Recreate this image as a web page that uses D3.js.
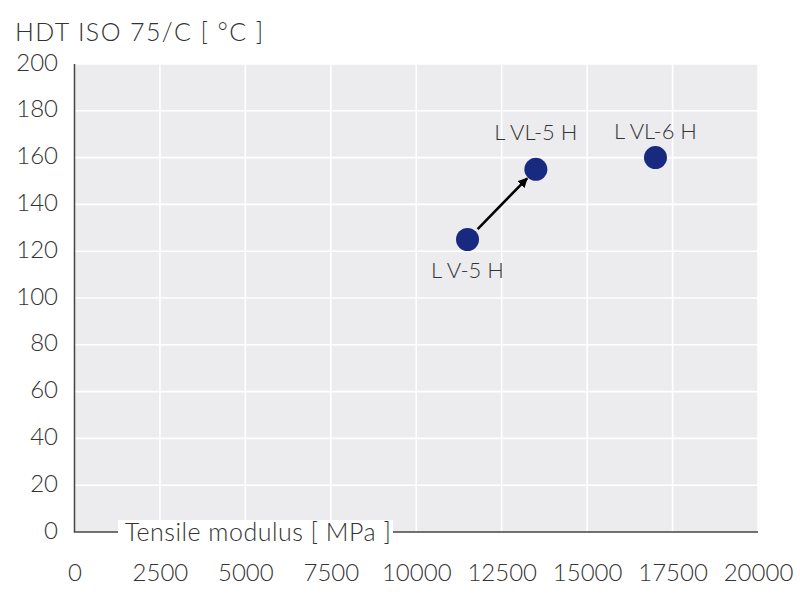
<!DOCTYPE html>
<html>
<head>
<meta charset="utf-8">
<script src="https://cdn.jsdelivr.net/npm/d3@7"></script>
<style>
  html, body { margin: 0; padding: 0; background: #fff; }
  svg { display: block; }
  text { font-family: "Lato", "Open Sans", sans-serif; font-weight: 300; fill: #333; }
</style>
</head>
<body>
<svg id="chart" width="800" height="608"></svg>
<script>
const grades = ["L V-5 H", "L VL-5 H", "L VL-6 H"];
const tensileModulus = [11500, 13500, 17000];
const hdt = [125, 155, 160];
const xTicks = [0, 2500, 5000, 7500, 10000, 12500, 15000, 17500, 20000];
const yTicks = [0, 20, 40, 60, 80, 100, 120, 140, 160, 180, 200];
const xTitle = "Tensile modulus [ MPa ]";
const yTitle = "HDT ISO 75/C [ °C ]";

const svg = d3.select("#chart");
const x = d3.scaleLinear().domain([0, 20000]).range([74.5, 758]);
const y = d3.scaleLinear().domain([0, 200]).range([532, 64]);

// plot background
svg.append("rect")
  .attr("x", x(0)).attr("y", y(200))
  .attr("width", x(20000) - x(0)).attr("height", y(0) - y(200))
  .attr("fill", "#ececee");

// grid
svg.append("g").selectAll("line").data(xTicks.slice(1)).join("line")
  .attr("x1", d => x(d)).attr("x2", d => x(d))
  .attr("y1", y(0)).attr("y2", y(200))
  .attr("stroke", "#fff").attr("stroke-width", 1.6);
svg.append("g").selectAll("line").data(yTicks.slice(1)).join("line")
  .attr("x1", x(0)).attr("x2", x(20000))
  .attr("y1", d => y(d)).attr("y2", d => y(d))
  .attr("stroke", "#fff").attr("stroke-width", 1.6);

// axes lines
svg.append("line").attr("x1", x(0)).attr("x2", x(0)).attr("y1", y(200)).attr("y2", y(0))
  .attr("stroke", "#444").attr("stroke-width", 1.5);
svg.append("line").attr("x1", x(0) - 0.75).attr("x2", x(20000)).attr("y1", y(0)).attr("y2", y(0))
  .attr("stroke", "#444").attr("stroke-width", 1.5);

// tick labels via axis generators
const yAxis = d3.axisLeft(y).tickValues(yTicks).tickSize(0).tickPadding(0);
const gy = svg.append("g").attr("transform", "translate(58,-1.5)").call(yAxis);
gy.select(".domain").remove();
gy.selectAll("text").attr("font-size", 24).attr("fill", "#333")
  .style("font-family", "Lato, 'Open Sans', sans-serif").style("font-weight", 300);

const xAxis = d3.axisBottom(x).tickValues(xTicks).tickFormat(d3.format("d")).tickSize(0).tickPadding(0);
const gx = svg.append("g").attr("transform", "translate(0,573)").call(xAxis);
gx.select(".domain").remove();
gx.selectAll("text").attr("font-size", 24).attr("dy", "0.35em").attr("fill", "#333")
  .style("font-family", "Lato, 'Open Sans', sans-serif").style("font-weight", 300);

// x title with white box
svg.append("rect").attr("x", 118).attr("y", 520).attr("width", 275).attr("height", 28).attr("fill", "#fff");
svg.append("text").attr("x", 258).attr("y", 541).attr("text-anchor", "middle")
  .attr("font-size", 25).attr("letter-spacing", 0.5).text(xTitle);

// y title
svg.append("text").attr("x", 15).attr("y", 40.5).attr("font-size", 25).attr("letter-spacing", 1.4).text(yTitle);

// arrow
svg.append("defs").append("marker")
  .attr("id", "ah").attr("viewBox", "0 0 10 10").attr("refX", 9).attr("refY", 5)
  .attr("markerWidth", 4).attr("markerHeight", 4).attr("orient", "auto")
  .append("path").attr("d", "M0,0L10,5L0,10z").attr("fill", "#000");

const p0 = [x(tensileModulus[0]), y(hdt[0])];
const p1 = [x(tensileModulus[1]), y(hdt[1])];
const ang = Math.atan2(p1[1] - p0[1], p1[0] - p0[0]);
const r = 11.5;
svg.append("line")
  .attr("x1", p0[0] + Math.cos(ang) * (r + 3)).attr("y1", p0[1] + Math.sin(ang) * (r + 3))
  .attr("x2", p1[0] - Math.cos(ang) * (r + 1)).attr("y2", p1[1] - Math.sin(ang) * (r + 1))
  .attr("stroke", "#000").attr("stroke-width", 2.5).attr("marker-end", "url(#ah)");

// points
svg.append("g").selectAll("circle").data(grades).join("circle")
  .attr("cx", (d, i) => x(tensileModulus[i]))
  .attr("cy", (d, i) => y(hdt[i]))
  .attr("r", r)
  .attr("fill", "#172a80");

// labels
svg.append("g").selectAll("text").data(grades).join("text")
  .attr("x", (d, i) => x(tensileModulus[i]))
  .attr("y", (d, i) => i === 0 ? y(hdt[i]) + 38 : y(hdt[i]) - (i === 1 ? 29 : 19))
  .attr("text-anchor", "middle")
  .attr("font-size", 22)
  .text(d => d);
</script>
</body>
</html>
